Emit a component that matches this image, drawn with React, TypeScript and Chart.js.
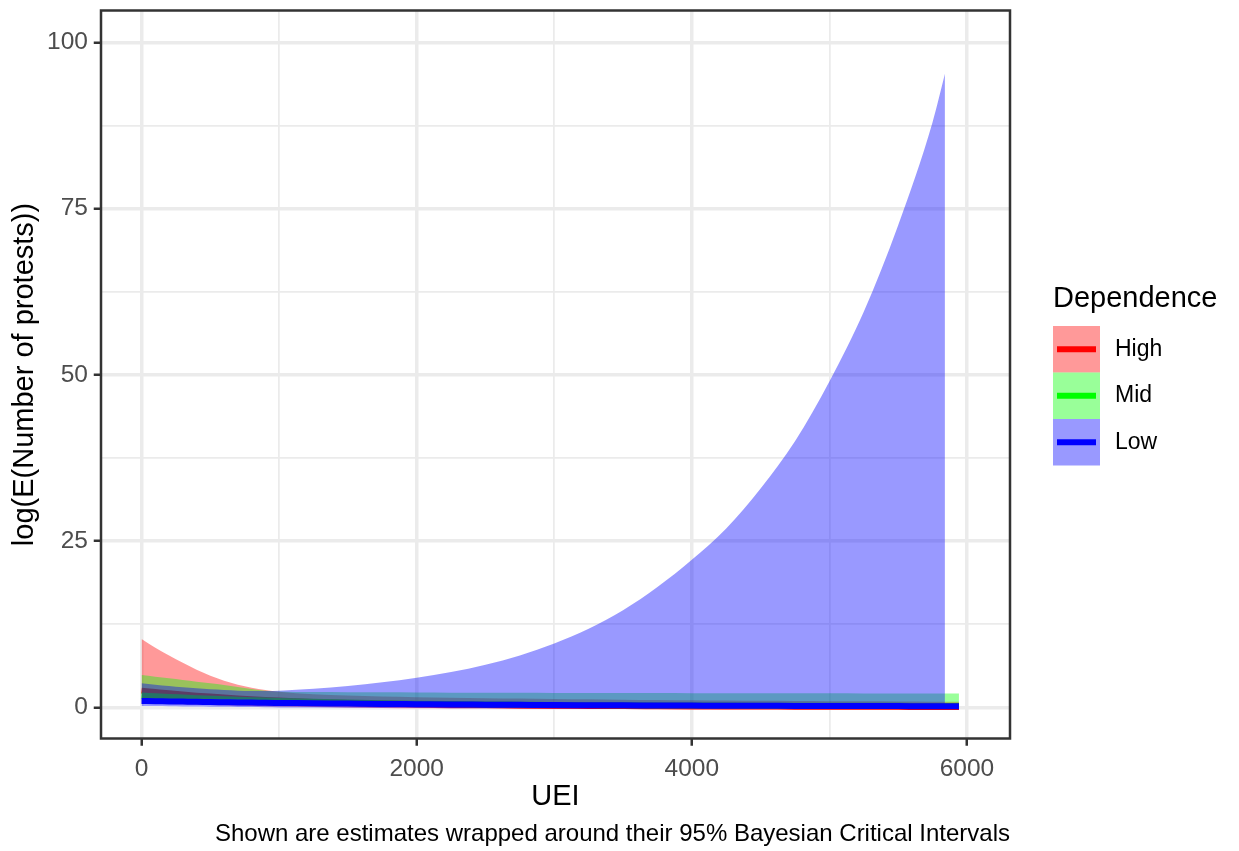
import React, { useEffect, useRef } from 'react';
import { Chart, registerables } from 'chart.js';

Chart.register(...registerables);

// ---- data ----
const uei = [0, 100, 200, 300, 400, 500, 600, 700, 800, 900, 1000, 1250, 1500, 1750, 2000, 2250, 2500, 2750, 3000, 3250, 3500, 3750, 4000, 4250, 4500, 4750, 5000, 5250, 5500, 5750, 5840, 5942];

const highUpper = [10.25, 8.95, 7.8, 6.7, 5.65, 4.75, 4.0, 3.4, 2.95, 2.6, 2.33, 1.95, 1.75, 1.62, 1.52, 1.44, 1.37, 1.3, 1.24, 1.19, 1.14, 1.1, 1.06, 1.02, 0.98, 0.95, 0.92, 0.89, 0.86, 0.83, 0.82, 0.81];
const highLower = [0.6, 0.55, 0.5, 0.45, 0.4, 0.35, 0.3, 0.25, 0.2, 0.15, 0.1, 0.02, -0.05, -0.1, -0.14, -0.17, -0.2, -0.22, -0.24, -0.25, -0.26, -0.27, -0.28, -0.29, -0.3, -0.3, -0.31, -0.31, -0.32, -0.32, -0.32, -0.32];
const highMean = [2.5, 2.3, 2.1, 1.92, 1.75, 1.6, 1.46, 1.33, 1.21, 1.1, 1.0, 0.8, 0.65, 0.54, 0.45, 0.38, 0.32, 0.27, 0.23, 0.2, 0.17, 0.15, 0.13, 0.11, 0.1, 0.09, 0.08, 0.07, 0.06, 0.05, 0.05, 0.05];

const midUpper = [4.85, 4.6, 4.35, 4.1, 3.85, 3.6, 3.35, 3.05, 2.75, 2.5, 2.38, 2.3, 2.27, 2.25, 2.22, 2.2, 2.18, 2.17, 2.16, 2.15, 2.14, 2.13, 2.12, 2.11, 2.1, 2.1, 2.09, 2.08, 2.08, 2.07, 2.07, 2.07];
const midLower = [0.9, 0.88, 0.86, 0.84, 0.82, 0.8, 0.78, 0.76, 0.74, 0.72, 0.7, 0.67, 0.65, 0.63, 0.61, 0.6, 0.59, 0.58, 0.57, 0.57, 0.56, 0.56, 0.55, 0.55, 0.55, 0.55, 0.55, 0.55, 0.55, 0.55, 0.55, 0.55];
const midMean = [1.75, 1.65, 1.55, 1.46, 1.37, 1.29, 1.21, 1.14, 1.07, 1.0, 0.94, 0.81, 0.7, 0.61, 0.54, 0.48, 0.43, 0.39, 0.35, 0.32, 0.3, 0.28, 0.26, 0.25, 0.24, 0.23, 0.22, 0.21, 0.21, 0.2, 0.2, 0.2];

// Low ribbon stops at 5840
const lowUpper = [3.6, 3.4, 3.2, 3.0, 2.85, 2.7, 2.6, 2.5, 2.45, 2.45, 2.5, 2.8, 3.2, 3.75, 4.45, 5.3, 6.4, 7.8, 9.6, 11.8, 14.6, 18.1, 22.2, 26.9, 32.9, 40.0, 49.0, 59.5, 72.5, 88.0, 95.3];
const lowLower = [0.2, 0.18, 0.15, 0.12, 0.1, 0.08, 0.06, 0.04, 0.02, 0.0, -0.02, -0.05, -0.08, -0.1, -0.12, -0.14, -0.15, -0.16, -0.17, -0.18, -0.19, -0.2, -0.2, -0.2, -0.2, -0.2, -0.2, -0.2, -0.2, -0.2, -0.2];
const lowMean = [0.95, 0.92, 0.88, 0.85, 0.82, 0.78, 0.75, 0.72, 0.7, 0.67, 0.65, 0.6, 0.55, 0.5, 0.46, 0.42, 0.39, 0.36, 0.33, 0.31, 0.29, 0.27, 0.25, 0.23, 0.22, 0.2, 0.19, 0.18, 0.17, 0.16, 0.15, 0.15];

const seriesNames = ['High', 'Mid', 'Low'];
const lineColors = ['#FF0000', '#00FF00', '#0000FF'];
const fillColors = ['rgba(255,0,0,0.4)', 'rgba(0,255,0,0.4)', 'rgba(0,0,255,0.4)'];

const xTickValues = [0, 1000, 2000, 3000, 4000, 5000, 6000];
const xMajorTicks = [0, 2000, 4000, 6000];
const yTickValues = [0, 12.5, 25, 37.5, 50, 62.5, 75, 87.5, 100];
const yMajorTicks = [0, 25, 50, 75, 100];

const xTitle = 'UEI';
const yTitle = 'log(E(Number of protests))';
const legendTitle = 'Dependence';
const caption = 'Shown are estimates wrapped around their 95% Bayesian Critical Intervals';

const FONT = '"Liberation Sans", Arial, Helvetica, sans-serif';

const pts = (ys: number[]) => ys.map((y, i) => ({ x: uei[i], y }));

const decorPlugin = {
  id: 'decor',
  afterDraw(chart: any) {
    const { ctx, chartArea: a } = chart;
    ctx.save();
    // panel border
    ctx.strokeStyle = '#333333';
    ctx.lineWidth = 2.5;
    ctx.strokeRect(a.left, a.top, a.right - a.left, a.bottom - a.top);

    // axis titles
    ctx.fillStyle = '#000000';
    ctx.font = `29px ${FONT}`;
    ctx.textAlign = 'center';
    ctx.textBaseline = 'middle';
    ctx.fillText(xTitle, (a.left + a.right) / 2, 797);
    ctx.save();
    ctx.translate(25, (a.top + a.bottom) / 2);
    ctx.rotate(-Math.PI / 2);
    ctx.fillText(yTitle, 0, 0);
    ctx.restore();

    // caption
    ctx.font = `24px ${FONT}`;
    ctx.textAlign = 'right';
    ctx.fillText(caption, a.right, 834);

    // legend
    ctx.textAlign = 'left';
    ctx.font = `29px ${FONT}`;
    ctx.fillText(legendTitle, 1053, 299);
    const keyW = 47;
    const keyH = 46.5;
    seriesNames.forEach((name, i) => {
      const y0 = 326 + i * keyH;
      ctx.fillStyle = fillColors[i];
      ctx.fillRect(1053, y0, keyW, keyH);
      ctx.strokeStyle = lineColors[i];
      ctx.lineWidth = 6;
      ctx.lineCap = 'butt';
      ctx.beginPath();
      ctx.moveTo(1057, y0 + keyH / 2);
      ctx.lineTo(1096, y0 + keyH / 2);
      ctx.stroke();
      ctx.fillStyle = '#000000';
      ctx.font = `23px ${FONT}`;
      ctx.fillText(name, 1115, y0 + keyH / 2);
    });
    ctx.restore();
  },
};

export default function App() {
  const ref = useRef<HTMLCanvasElement | null>(null);

  useEffect(() => {
    if (!ref.current) return;
    const ribbon = (data: number[], color: string, fillTarget: number | false, order: number) => ({
      data: pts(data),
      borderWidth: 0,
      borderColor: 'rgba(0,0,0,0)',
      backgroundColor: color,
      fill: fillTarget === false ? false : fillTarget,
      pointRadius: 0,
      order,
    });
    const line = (data: number[], color: string, order: number) => ({
      data: pts(data),
      borderWidth: 6,
      borderColor: color,
      backgroundColor: color,
      fill: false,
      pointRadius: 0,
      order,
    });

    const datasets: any[] = [
      line(lowMean, lineColors[2], 0), // 0
      ribbon(lowUpper, fillColors[2], 2, 4), // 1
      ribbon(lowLower, fillColors[2], false, 4), // 2
      ribbon(midUpper, fillColors[1], 4, 6), // 3
      ribbon(midLower, fillColors[1], false, 6), // 4
      ribbon(highUpper, fillColors[0], 6, 8), // 5
      ribbon(highLower, fillColors[0], false, 8), // 6
      line(midMean, lineColors[1], 9), // 7
      line(highMean, lineColors[0], 10), // 8
    ];

    const gridStyle = (major: number[]) => ({
      color: '#EBEBEB',
      lineWidth: (c: any) => (c.tick && major.includes(c.tick.value) ? 3.5 : 1.75),
      tickColor: (c: any) => (c.tick && major.includes(c.tick.value) ? '#333333' : 'rgba(0,0,0,0)'),
      tickWidth: 2.5,
      tickLength: 7.25,
      drawTicks: true,
    });

    const chart = new Chart(ref.current, {
      type: 'line',
      data: { datasets },
      plugins: [decorPlugin],
      options: {
        animation: false,
        responsive: false,
        maintainAspectRatio: false,
        layout: { padding: { top: 10.5, right: 229, left: 0, bottom: 0 } },
        elements: {
          point: { radius: 0 },
          line: { cubicInterpolationMode: 'monotone', borderCapStyle: 'butt', borderJoinStyle: 'round' },
        },
        plugins: {
          legend: { display: false },
          tooltip: { enabled: false },
          title: { display: false },
        },
        scales: {
          x: {
            type: 'linear',
            min: -295,
            max: 6313,
            afterBuildTicks: (s: any) => {
              s.ticks = xTickValues.map((v) => ({ value: v }));
            },
            afterFit: (s: any) => {
              s.height = 112.5;
              s.paddingLeft = 0;
              s.paddingRight = 0;
            },
            grid: gridStyle(xMajorTicks),
            border: { display: false },
            ticks: {
              autoSkip: false,
              maxRotation: 0,
              padding: 8.5,
              color: '#4D4D4D',
              font: { family: FONT, size: 24.5 },
              callback: (v: any) => (xMajorTicks.includes(Number(v)) ? String(v) : ''),
            },
          },
          y: {
            type: 'linear',
            min: -4.7,
            max: 104.8,
            afterBuildTicks: (s: any) => {
              s.ticks = yTickValues.map((v) => ({ value: v }));
            },
            afterFit: (s: any) => {
              s.width = 101;
              s.paddingTop = 0;
              s.paddingBottom = 0;
            },
            grid: gridStyle(yMajorTicks),
            border: { display: false },
            ticks: {
              autoSkip: false,
              padding: 5.8,
              color: '#4D4D4D',
              font: { family: FONT, size: 24.5 },
              callback: (v: any) => (yMajorTicks.includes(Number(v)) ? String(v) : ''),
            },
          },
        },
      } as any,
    });
    return () => chart.destroy();
  }, []);

  return (
    <div style={{ position: 'absolute', left: 0, top: 0, width: 1239, height: 851, background: '#FFFFFF' }}>
      <canvas ref={ref} width={1239} height={851} style={{ display: 'block', width: 1239, height: 851 }} />
    </div>
  );
}
